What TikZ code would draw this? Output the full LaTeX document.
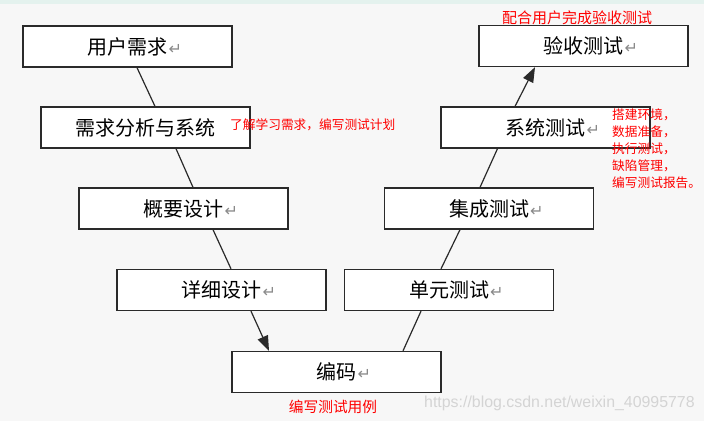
\documentclass[tikz,border=0pt]{standalone}
\usepackage{fontspec}
\setmainfont{Noto Sans CJK SC}
\newfontfamily\cjk{Noto Sans CJK SC}
\newfontfamily\symfont{DejaVu Sans}
\newfontfamily\wmfont{Liberation Sans}
\usetikzlibrary{arrows.meta}
\definecolor{bg}{HTML}{F7F7F7}
\definecolor{topstrip}{HTML}{E4F2EE}
\definecolor{boxline}{HTML}{2A2A2A}
\definecolor{retgray}{HTML}{8A8A8A}
\definecolor{wmgray}{HTML}{D4D4D4}
\newcommand{\ret}{\rlap{\hspace{1bp}\fontsize{16bp}{16bp}\symfont\color{retgray}↵}}
\tikzset{
  stagebox/.style={draw=boxline, line width=1.3bp, fill=white, minimum width=209bp, minimum height=41bp, inner sep=0pt, font=\cjk\fontsize{20bp}{20bp}\selectfont, text=black},
  conn/.style={draw=boxline, line width=1.2bp},
  connarrow/.style={conn, -{Triangle[length=15bp,width=11bp]}},
  note/.style={text=red, inner sep=0pt, font=\cjk\fontsize{12.7bp}{17bp}\selectfont}
}
\begin{document}
\begin{tikzpicture}[x=1bp,y=-1bp]
\fill[bg] (0,0) rectangle (704,421);
\fill[topstrip] (0,0) rectangle (704,4);
\useasboundingbox (0,0) rectangle (704,421);

\node[stagebox] (n1) at (127.5,46.5) {用户需求\ret};
\node[stagebox] (n2) at (145.5,127.5) {需求分析与系统};
\node[stagebox] (n3) at (183.5,208.5) {概要设计\ret};
\node[stagebox] (n4) at (221.5,290) {详细设计\ret};
\node[stagebox] (n5) at (336.5,372) {编码\ret};
\node[stagebox] (n6) at (449,290) {单元测试\ret};
\node[stagebox] (n7) at (489,208.5) {集成测试\ret};
\node[stagebox] (n8) at (545.5,127.5) {系统测试\ret};
\node[stagebox] (n9) at (583.5,46) {验收测试\ret};

\draw[conn] ([xshift=9.5bp]n1.south) -- ([xshift=9.5bp]n2.north);
\draw[conn] ([xshift=30.5bp]n2.south) -- ([xshift=9.5bp]n3.north);
\draw[conn] ([xshift=29.5bp]n3.south) -- ([xshift=9.5bp]n4.north);
\draw[connarrow] ([xshift=29.5bp]n4.south) -- ([xshift=-67.5bp]n5.north);
\draw[conn] ([xshift=66.5bp]n5.north) -- ([xshift=-28bp]n6.south);
\draw[conn] ([xshift=-8bp]n6.north) -- ([xshift=-29bp]n7.south);
\draw[conn] ([xshift=-9bp]n7.north) -- ([xshift=-48bp]n8.south);
\draw[connarrow] ([xshift=-30.5bp]n8.north) -- ([xshift=-48.5bp]n9.south);

\node[note, anchor=west] (t1) at (230,125) {了解学习需求，编写测试计划};
\node[note, font=\cjk\fontsize{15bp}{15bp}\selectfont] (t2) at (577,18) {配合用户完成验收测试};
\node[note, anchor=west, align=left] (t3) at (612,149) {搭建环境，\\数据准备，\\执行测试，\\缺陷管理，\\编写测试报告。};
\node[note, font=\cjk\fontsize{14.7bp}{15bp}\selectfont] (t4) at (333,407) {编写测试用例};
\node[text=wmgray, inner sep=0pt, anchor=west, font=\wmfont\fontsize{15.9bp}{16bp}\selectfont] (wm) at (424,403) {https://blog.csdn.net/weixin\_40995778};
\end{tikzpicture}
\end{document}
